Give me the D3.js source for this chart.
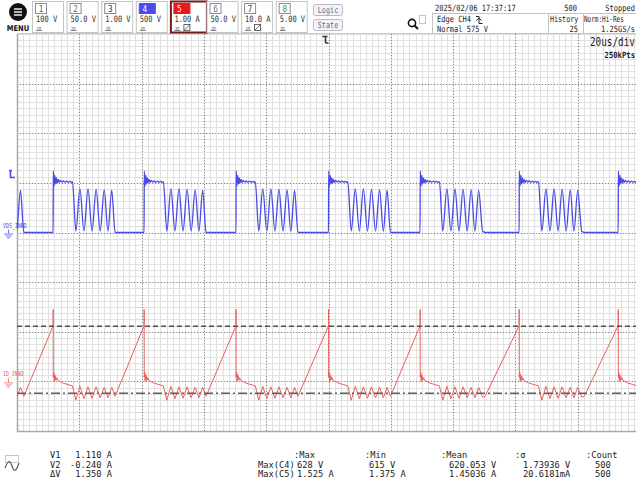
<!DOCTYPE html>
<html><head><meta charset="utf-8">
<script src="https://cdn.jsdelivr.net/npm/d3@7"></script>
<style>body{margin:0;background:#fff}svg{display:block}</style>
</head><body><script>
// ---- acquisition settings ----
const timePerDiv = 20;          // µs/div
const ch4PerDiv = 500;          // V/div  (VDS)
const ch5PerDiv = 1;            // A/div  (ID)
const ch4Offset = 0;            // ground position, div from centre
const ch5Offset = -3;
const hDivs = 10, vDivs = 8;

const channelNumbers = ["1","2","3","4","5","6","7","8"];
const channelScales = ["100 V","50.0 V","1.00 V","500 V","1.00 A","50.0 V","10.0 A","5.00 V"];

// ---- CH4 switching edges (µs from trigger) and when ringing dies out (µs after edge) ----
const edgeTimes = [-117.7, -88.4, -59.2, -29.7, 0, 29.4, 61.2, 93.0];
const ringStop  = [19.9, 19.9, 19.9, 19.9, 19.9, 20.9, 20.9, 20.9];

// one cycle of VDS after a rising edge: µs after edge / volts
const vdsCycleT = [0, 0.05, 0.3, 0.55, 0.8, 1.05, 1.3, 1.6, 1.9, 2.3, 2.8, 3.3, 3.8, 4.3, 4.8, 5.3, 5.8, 6.2,
                   7.3, 8.6, 9.9, 11.2, 12.5, 13.8, 15.1, 16.4, 17.6, 18.8, 20.1, 21.4, 22.6];
const vdsCycleV = [0, 620, 470, 575, 490, 550, 500, 535, 505, 525, 508, 520, 507, 518, 506, 516, 506, 512,
                   15, 440, 15, 440, 15, 435, 15, 430, 15, 425, 12, 420, 10];
const vdsLow = 0;

// one cycle of ID after the same edge: µs after edge / amps
const idCycleT = [0, 0.02, 0.05, 0.2, 0.35, 0.5, 0.65, 0.8, 1.0, 1.2, 1.5, 3.0, 4.5, 6.2,
                  7.3, 8.6, 9.9, 11.2, 12.5, 13.8, 15.1, 16.4, 17.6, 18.8, 20.1, 21.4, 22.6];
const idCycleA = [1.12, 1.45, 0.08, 0.18, 0.0, 0.14, 0.02, 0.1, 0.03, 0.07, 0.02, -0.03, -0.06, -0.09,
                  -0.38, -0.1, -0.35, -0.11, -0.34, -0.11, -0.33, -0.12, -0.33, -0.12, -0.32, -0.13, -0.3];
const idRampStart = -0.3;

// cursors and trigger
const cursorV1 = 1.110, cursorV2 = -0.240;
const triggerLevel = 575;

// measurement table
const measHeads = [":Max", ":Min", ":Mean", ":σ", ":Count"];
const measRowNames = ["Max(C4)", "Max(C5)"];
const measC4 = ["628 V", "615 V", "620.053 V", "1.73936 V", "500"];
const measC5 = ["1.525 A", "1.375 A", "1.45036 A", "20.6181mA", "500"];
const cursorNames = ["V1", "V2", "ΔV"];
const cursorTexts = ["1.110 A", "-0.240 A", "1.350 A"];

// ---- layout ----
const W = 636, H = 489;
const plot = {left: 17, right: 640, top: 34, bottom: 431};
const blue = "#4a4ae8", red = "#e8625e";
const ink = "#1a1a1a";

const svg = d3.select("body").append("svg").attr("width", W).attr("height", H)
  .style("font-family", "DejaVu Sans Mono");

const x = d3.scaleLinear().domain([-hDivs/2*timePerDiv, hDivs/2*timePerDiv]).range([plot.left, plot.right]);
const yDiv = d3.scaleLinear().domain([-vDivs/2, vDivs/2]).range([plot.bottom, plot.top]);
const y4 = v => yDiv(v / ch4PerDiv + ch4Offset);
const y5 = a => yDiv(a / ch5PerDiv + ch5Offset);

function txt(parent, px, py, s, o = {}) {
  const t = parent.append("text")
    .attr("transform", `translate(${px},${py}) scale(${o.sx ?? 0.78},1)`)
    .attr("font-size", o.size ?? 11)
    .attr("fill", o.color ?? ink)
    .attr("text-anchor", o.anchor ?? "start")
    .attr("font-family", o.family ?? "DejaVu Sans Mono")
    .text(s);
  if (o.weight) t.attr("font-weight", o.weight);
  return t;
}

// ---- graticule ----
svg.append("clipPath").attr("id", "clip").append("rect")
  .attr("x", plot.left).attr("y", plot.top).attr("width", W - plot.left).attr("height", plot.bottom - plot.top);
const grid = svg.append("g").attr("clip-path", "url(#clip)");
const fineX = d3.range(0, hDivs * 10 + 1).map(i => -hDivs/2*timePerDiv + i * timePerDiv / 10);
const fineY = d3.range(0, vDivs * 8 + 1).map(i => -vDivs/2 + i / 8);
grid.selectAll(".fx").data(fineX).join("line")
  .attr("x1", d => Math.round(x(d)) + 0.5).attr("x2", d => Math.round(x(d)) + 0.5)
  .attr("y1", plot.top).attr("y2", plot.bottom).attr("stroke", "#e0e0e0");
grid.selectAll(".fy").data(fineY).join("line")
  .attr("y1", d => Math.round(yDiv(d)) + 0.5).attr("y2", d => Math.round(yDiv(d)) + 0.5)
  .attr("x1", plot.left).attr("x2", W).attr("stroke", "#e0e0e0");
const majX = d3.range(1, hDivs).map(i => -hDivs/2*timePerDiv + i * timePerDiv);
const majY = d3.range(1, vDivs).map(i => -vDivs/2 + i);
grid.selectAll(".mx").data(majX).join("line")
  .attr("x1", d => Math.round(x(d)) + 0.5).attr("x2", d => Math.round(x(d)) + 0.5)
  .attr("y1", plot.top).attr("y2", plot.bottom).attr("stroke", "#8a8a8a").attr("stroke-dasharray", "1,2");
grid.selectAll(".my").data(majY).join("line")
  .attr("y1", d => Math.round(yDiv(d)) + 0.5).attr("y2", d => Math.round(yDiv(d)) + 0.5)
  .attr("x1", plot.left).attr("x2", W).attr("stroke", "#8a8a8a").attr("stroke-dasharray", "1,2");
// frame (left and bottom edges visible)
svg.append("path").attr("d", `M${plot.left + 0.5},${plot.top}V${plot.bottom + 0.5}H${W}`)
  .attr("fill", "none").attr("stroke", "#a8a8a8").attr("stroke-width", 1.5);
svg.append("line").attr("x1", plot.left).attr("x2", W).attr("y1", plot.top - 0.5).attr("y2", plot.top - 0.5)
  .attr("stroke", "#c8c8c8");

// ---- waveforms ----
function buildTrace(cycT, cycV, stopValue) {
  const pts = [];
  edgeTimes.forEach((e, k) => {
    const next = k + 1 < edgeTimes.length ? edgeTimes[k + 1] : Infinity;
    const stop = ringStop[k];
    for (let i = 0; i < cycT.length; i++) {
      if (cycT[i] >= stop || e + cycT[i] >= next) break;
      pts.push([e + cycT[i], cycV[i]]);
    }
    if (e + stop < next) pts.push([e + stop, stopValue]);
  });
  return pts;
}
const vdsPts = buildTrace(vdsCycleT, vdsCycleV, vdsLow);
const idPts = buildTrace(idCycleT, idCycleA, idRampStart);

const traces = svg.append("g").attr("clip-path", "url(#clip)");
traces.append("path").datum(vdsPts)
  .attr("d", d3.line().x(d => x(d[0])).y(d => y4(d[1])).curve(d3.curveMonotoneX))
  .attr("fill", "none").attr("stroke", blue).attr("stroke-width", 1.3);
traces.append("path").datum(idPts)
  .attr("d", d3.line().x(d => x(d[0])).y(d => y5(d[1])))
  .attr("fill", "none").attr("stroke", red).attr("stroke-width", 1);

// ---- cursors ----
traces.append("line").attr("x1", plot.left).attr("x2", W)
  .attr("y1", y5(cursorV1)).attr("y2", y5(cursorV1))
  .attr("stroke", "#505050").attr("stroke-width", 1.5).attr("stroke-dasharray", "5,3");
traces.append("line").attr("x1", plot.left).attr("x2", W)
  .attr("y1", y5(cursorV2)).attr("y2", y5(cursorV2))
  .attr("stroke", "#606060").attr("stroke-width", 1.5).attr("stroke-dasharray", "9,3,2,3");

// ---- channel markers at left ----
const trigY = y4(triggerLevel);
svg.append("path").attr("d", `M9,${trigY - 5}H12M10.5,${trigY - 5}V${trigY + 2}H15`)
  .attr("fill", "none").attr("stroke", blue).attr("stroke-width", 1.6);
function groundMark(gy, color, name) {
  txt(svg, 3, gy - 5, name, {size: 7, sx: 0.7, color});
  svg.append("path")
    .attr("d", `M8.5,${gy - 3}V${gy + 1}M4,${gy + 1.5}H13M5.5,${gy + 3.5}H11.5M7,${gy + 5.5}H10`)
    .attr("fill", "none").attr("stroke", color).attr("stroke-width", 1).attr("opacity", 0.75);
}
groundMark(y4(0), blue, "VDS_INNO");
groundMark(y5(0), red, "ID_INNO");

// trigger position marker
const tx = x(0) - 3;
svg.append("path").attr("d", `M${tx - 3},${plot.top + 2.5}H${tx + 2}M${tx},${plot.top + 2.5}V${plot.top + 9}M${tx},${plot.top + 9}H${tx + 3}`)
  .attr("fill", "none").attr("stroke", "#333").attr("stroke-width", 1.5);

txt(svg, 635, 46, "20us/div", {size: 12, sx: 0.78, anchor: "end"});
txt(svg, 635, 57.5, "250kPts", {size: 8.5, sx: 0.85, anchor: "end", weight: "bold"});

// ---- header ----
const head = svg.append("g");
// menu button
head.append("circle").attr("cx", 18).attr("cy", 12).attr("r", 9).attr("fill", "#111");
[-3, 0, 3].forEach(d => head.append("line").attr("x1", 14).attr("x2", 22).attr("y1", 12 + d).attr("y2", 12 + d)
  .attr("stroke", "#fff").attr("stroke-width", 1.4));
txt(head, 18, 31, "MENU", {size: 8, sx: 0.85, anchor: "middle", weight: "bold", color: "#111", family: "DejaVu Sans"});

const boxW = 34.6;
channelNumbers.forEach((n, i) => {
  const bx = 32 + i * boxW + (i > 4 ? 1.5 : 0);
  const w = i === 4 ? 36 : 31;
  const sel = i === 4;
  head.append("rect").attr("x", bx + 0.5).attr("y", 1.5).attr("width", w).attr("height", 31)
    .attr("fill", "#fff").attr("stroke", sel ? "#7a1a1a" : "#c4c4c4").attr("stroke-width", sel ? 2 : 1);
  const tabFill = i === 3 ? "#4b4bf0" : (sel ? "#e8181c" : "#fff");
  head.append("rect").attr("x", bx + 3.5).attr("y", 3.5).attr("width", i === 3 || sel ? 16 : 11).attr("height", 10)
    .attr("fill", tabFill).attr("stroke", i === 3 || sel ? tabFill : "#8a8a9a");
  const numColor = (i === 3 || sel) ? "#fff" : ["#5a5a7a", "#8a5a5a", "#333", "", "", "#3a8a8a", "#5a3a3a", "#4a8a4a"][i];
  txt(head, bx + 9, 11.8, n, {size: 8.5, sx: 0.9, anchor: "middle", color: numColor});
  txt(head, bx + 4, 22.3, channelScales[i], {size: 8.8, sx: 0.8, color: "#333"});
  // impedance / coupling badge
  txt(head, bx + 4.5, 29.6, "1M", {size: 4.5, sx: 0.8, color: "#555"});
  head.append("line").attr("x1", bx + 4).attr("x2", bx + 10).attr("y1", 30.5).attr("y2", 30.5).attr("stroke", "#666").attr("stroke-width", 0.8);
  if (i === 4 || i === 6) {
    head.append("rect").attr("x", bx + 13.5).attr("y", 24.5).attr("width", 6).attr("height", 6)
      .attr("fill", "none").attr("stroke", "#444").attr("stroke-width", 0.8);
    head.append("path").attr("d", `M${bx + 13.5},${30.5}L${bx + 19.5},${24.5}`).attr("stroke", "#444").attr("stroke-width", 0.8);
  }
});
// logic / state buttons
["Logic", "State"].forEach((s, i) => {
  head.append("rect").attr("x", 313.5).attr("y", 4.5 + i * 15).attr("width", 29).attr("height", 11).attr("rx", 2)
    .attr("fill", "#f4f4f8").attr("stroke", "#b8b8c8");
  txt(head, 328, 12.8 + i * 15, s, {size: 8.5, sx: 0.8, anchor: "middle", color: "#6a6a80"});
});
// zoom icon
head.append("circle").attr("cx", 412).attr("cy", 23).attr("r", 3.6).attr("fill", "none").attr("stroke", "#111").attr("stroke-width", 1.6);
head.append("line").attr("x1", 414.5).attr("y1", 25.5).attr("x2", 418).attr("y2", 29).attr("stroke", "#111").attr("stroke-width", 2);
head.append("rect").attr("x", 419.5).attr("y", 15.5).attr("width", 6).attr("height", 8).attr("fill", "none")
  .attr("stroke", "#888").attr("stroke-dasharray", "1,1");

const hs = {size: 8.6, sx: 0.82};
txt(head, 435, 11, "2025/02/06 17:37:17", hs);
txt(head, 577, 11, "500", {...hs, anchor: "end"});
txt(head, 635, 11, "Stopped", {...hs, anchor: "end"});
head.append("rect").attr("x", 432.5).attr("y", 13.5).attr("width", 116).attr("height", 20).attr("fill", "none").attr("stroke", "#c4c4c4");
head.append("rect").attr("x", 548.5).attr("y", 13.5).attr("width", 35).attr("height", 20).attr("fill", "none").attr("stroke", "#c4c4c4");
head.append("rect").attr("x", 583.5).attr("y", 13.5).attr("width", 60).attr("height", 20).attr("fill", "none").attr("stroke", "#c4c4c4");
txt(head, 437, 21.5, "Edge CH4", hs);
head.append("path").attr("d", "M476,16.5H479V23.5H482.5M476.5,20.5L479,18L481.5,20.5").attr("fill", "none").attr("stroke", "#222").attr("stroke-width", 1);
txt(head, 437, 31.6, "Normal 575 V", hs);
txt(head, 550, 21.5, "History", {...hs, sx: 0.78});
txt(head, 578, 31.6, "25", {...hs, anchor: "end"});
txt(head, 584, 21.5, "Norm:Hi-Res", {...hs, sx: 0.7});
txt(head, 635, 31.6, "1.25GS/s", {...hs, anchor: "end"});

// ---- measurement area ----
const meas = svg.append("g");
meas.append("rect").attr("x", 5.5).attr("y", 455.5).attr("width", 13).attr("height", 7).attr("fill", "none")
  .attr("stroke", "#8a8aa8").attr("stroke-dasharray", "1,1");
meas.append("path").attr("d", "M5,468C8,460 10,460 12,466S16,472 19,463").attr("fill", "none").attr("stroke", "#556").attr("stroke-width", 1.2);

const ms = {size: 8.3, sx: 1.05};
const rowY = [458, 467.6, 477.2];
cursorNames.forEach((n, i) => {
  txt(meas, 50, rowY[i], n, ms);
  txt(meas, 112, rowY[i], cursorTexts[i], {...ms, anchor: "end"});
});
const colX = [294, 365, 441, 515, 586];
const valX = [297, 369, 449, 523, 595];
measHeads.forEach((h, j) => txt(meas, colX[j], rowY[0], h, ms));
measRowNames.forEach((n, i) => txt(meas, 258, rowY[i + 1], n, ms));
[measC4, measC5].forEach((row, i) => row.forEach((v, j) =>
  txt(meas, valX[j], rowY[i + 1], v, ms)));
</script></body></html>
